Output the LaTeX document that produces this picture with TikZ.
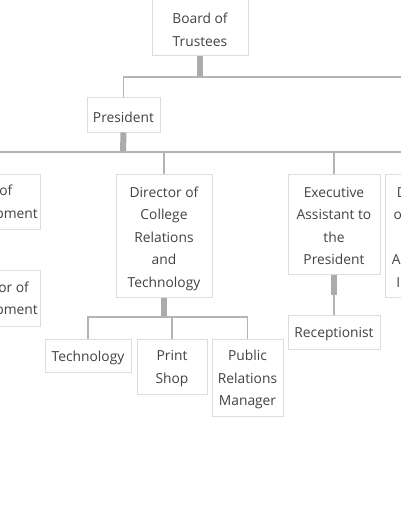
\documentclass[tikz,border=0pt]{standalone}
\usepackage{fontspec}
\setmainfont{Open Sans}
\definecolor{boxc}{HTML}{DDDDDD}
\definecolor{txtc}{HTML}{424242}
\definecolor{linkc}{HTML}{B4B4B4}
\definecolor{barc}{HTML}{ABABAB}
\begin{document}
\begin{tikzpicture}[x=1pt,y=-1pt,
  box/.style={draw=boxc, line width=1pt, fill=white, inner sep=0pt},
  txt/.style={text=txtc, font=\fontsize{13.8}{22.5}\selectfont,
    align=center, inner sep=0pt, yshift=-2pt},
  link/.style={draw=linkc, line width=1.5pt},
  bar/.style={draw=barc, line width=6pt}]
\useasboundingbox (0,0) rectangle (400,516);
% nodes
\node[box, minimum width=96pt, minimum height=56pt,
  label={[txt]center:{Board of\\Trustees}}] (board) at (200,28) {};
\node[box, minimum width=73pt, minimum height=34pt,
  label={[txt]center:{President}}] (pres) at (123.5,115) {};
\node[box, minimum width=124pt, minimum height=55pt,
  label={[txt]center:{Director of\\Staff Development}}] (left1) at (-22,201.5) {};
\node[box, minimum width=91pt, minimum height=56pt,
  label={[txt]center:{Director of\\Development}}] (left2) at (-5.5,298) {};
\node[box, minimum width=96pt, minimum height=123pt,
  label={[txt,yshift=-1pt]center:{Director of\\College\\Relations\\and\\Technology}}] (dir) at (164,235.5) {};
\node[box, minimum width=92pt, minimum height=100pt,
  label={[txt]center:{Executive\\Assistant to\\the\\President}}] (exec) at (334,224) {};
\node[box, minimum width=76pt, minimum height=123pt,
  label={[txt]center:{Director\\of Online\\and\\Academic\\Institute}}] (right) at (423,235.5) {};
\node[box, minimum width=86pt, minimum height=33pt,
  label={[txt]center:{Technology}}] (tech) at (88,355.5) {};
\node[box, minimum width=70pt, minimum height=55pt,
  label={[txt]center:{Print\\Shop}}] (print) at (172,366.5) {};
\node[box, minimum width=71pt, minimum height=77pt,
  label={[txt]center:{Public\\Relations\\Manager}}] (pr) at (247.5,377.5) {};
\node[box, minimum width=92pt, minimum height=34pt,
  label={[txt]center:{Receptionist}}] (recep) at (334,332) {};
% junction coordinates
\coordinate (bj) at (200,77);
\coordinate (bR) at (410,77);
\coordinate (pj) at (123,152);
\coordinate (pL) at (-10,152);
\coordinate (pR) at (410,152);
\coordinate (dj) at (164,317);
\coordinate (ej) at (334,295);
% connectors
\draw[bar] (board.south) -- (bj);
\draw[link] (pres.north) |- (bR);
\draw[bar] (pres.south) -- (pj);
\draw[link] (pL) -- (pR);
\draw[link] (dir.north) -- (dir.north |- pj);
\draw[link] (exec.north) -- (exec.north |- pj);
\draw[bar] (dir.south) -- (dj);
\draw[link] (tech.north) |- (dj);
\draw[link] (pr.north) |- (dj);
\draw[link] (print.north) -- (print.north |- dj);
\draw[bar] (exec.south) -- (ej);
\draw[link] (ej) -- (recep.north);
\end{tikzpicture}
\end{document}
